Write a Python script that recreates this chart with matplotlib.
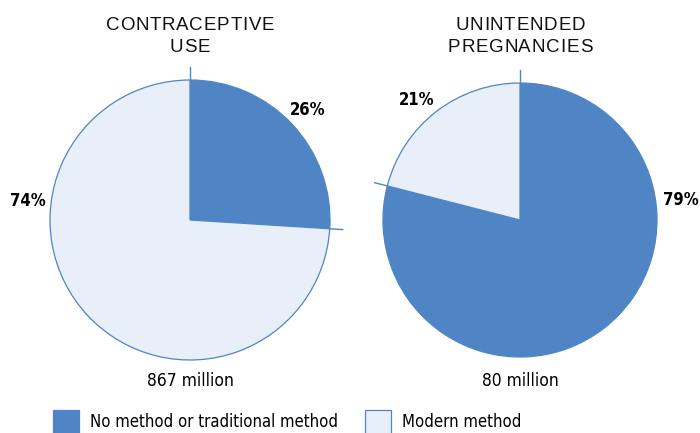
import numpy as np
import matplotlib
matplotlib.use('Agg')
import matplotlib.pyplot as plt
from matplotlib.patches import Rectangle
from matplotlib import font_manager

W, H = 700, 433

titles = ['CONTRACEPTIVE\nUSE', 'UNINTENDED\nPREGNANCIES']
totals = ['867 million', '80 million']
categories = ['No method or traditional method', 'Modern method']
contraceptive_use = [26, 74]
unintended_pregnancies = [79, 21]

dark = '#4f85c5'
light = '#e8eff8'
edge = '#4f85c5'

# pick a narrow face if there is one
names = {f.name for f in font_manager.fontManager.ttflist}
cond = [f for f in font_manager.fontManager.ttflist
		if f.name == 'DejaVu Sans' and str(f.stretch) in ('condensed', '600', '700')]
if 'Liberation Sans Narrow' in names:
	narrow = dict(family=['Liberation Sans Narrow', 'DejaVu Sans'])
	nsize = 13.5
elif cond:
	narrow = dict(family=['DejaVu Sans'], fontstretch='condensed')
	nsize = 12.5
else:
	narrow = dict(family=['Liberation Sans', 'DejaVu Sans'])
	nsize = 11.5


def px(y):
	# pixel row (top down) -> data y (bottom up)
	return H - y


fig = plt.figure(figsize=(7, 4.33), dpi=100)
ax = fig.add_axes([0, 0, 1, 1])
renderer = fig.canvas.get_renderer()


def tracked(x, y, s, spacing, **kw):
	# draw letter-spaced text centred on x
	widths = []
	for ch in s:
		t = ax.text(0, 0, ch, **kw)
		widths.append(t.get_window_extent(renderer).width)
		t.remove()
	total = sum(widths) + spacing * (len(s) - 1)
	cur = x - total / 2
	for ch, w in zip(s, widths):
		ax.text(cur, y, ch, ha='left', va='baseline', **kw)
		cur += w + spacing


pies = [
	dict(values=contraceptive_use, cx=190, cy=220, r=140,
		 label_pos=[(308, 110), (28, 201)]),
	dict(values=unintended_pregnancies, cx=520, cy=220, r=137,
		 label_pos=[(681, 200), (417, 100)]),
]

for i, p in enumerate(pies):
	vals = np.array(p['values'], dtype=float)
	ax.pie(vals, colors=[dark, light], startangle=90, counterclock=False,
		   center=(p['cx'], px(p['cy'])), radius=p['r'],
		   wedgeprops=dict(edgecolor=edge, linewidth=0.9))

	# leader ticks at wedge boundaries
	cum = np.concatenate([[0], np.cumsum(vals)[:-1]]) / vals.sum()
	for c in cum:
		ang = np.deg2rad(90 - 360 * c)
		r0, r1 = p['r'], p['r'] + 13
		ax.plot([p['cx'] + r0 * np.cos(ang), p['cx'] + r1 * np.cos(ang)],
				[px(p['cy']) + r0 * np.sin(ang), px(p['cy']) + r1 * np.sin(ang)],
				color=edge, linewidth=1.0)

	# percent labels
	for v, (lx, ly) in zip(p['values'], p['label_pos']):
		ax.text(lx, px(ly), f'{v}%', ha='center', va='center',
				fontweight='bold', fontsize=nsize - 0.5, color='black', **narrow)

	# title
	lines = titles[i].split('\n')
	for j, line in enumerate(lines):
		tracked(p['cx'], px(30 + 22 * j), line, 0.8,
				family=['Liberation Sans', 'DejaVu Sans'], fontsize=13.5,
				color='#111111')

	# total
	ax.text(p['cx'], px(381), totals[i], ha='center', va='center',
			fontsize=nsize, color='black', **narrow)

# legend
legend_x = [53, 365]
for k, name in enumerate(categories):
	fc = dark if k == 0 else light
	ax.add_patch(Rectangle((legend_x[k], px(437)), 26, 27, facecolor=fc,
						   edgecolor=edge, linewidth=0.9, clip_on=False))
	ax.text(legend_x[k] + 37, px(422), name, ha='left', va='center',
			fontsize=nsize - 0.5, color='black', **narrow)

ax.set_xlim(0, W)
ax.set_ylim(0, H)
ax.set_aspect('auto')
ax.axis('off')

fig.savefig('out.png', dpi=100)
